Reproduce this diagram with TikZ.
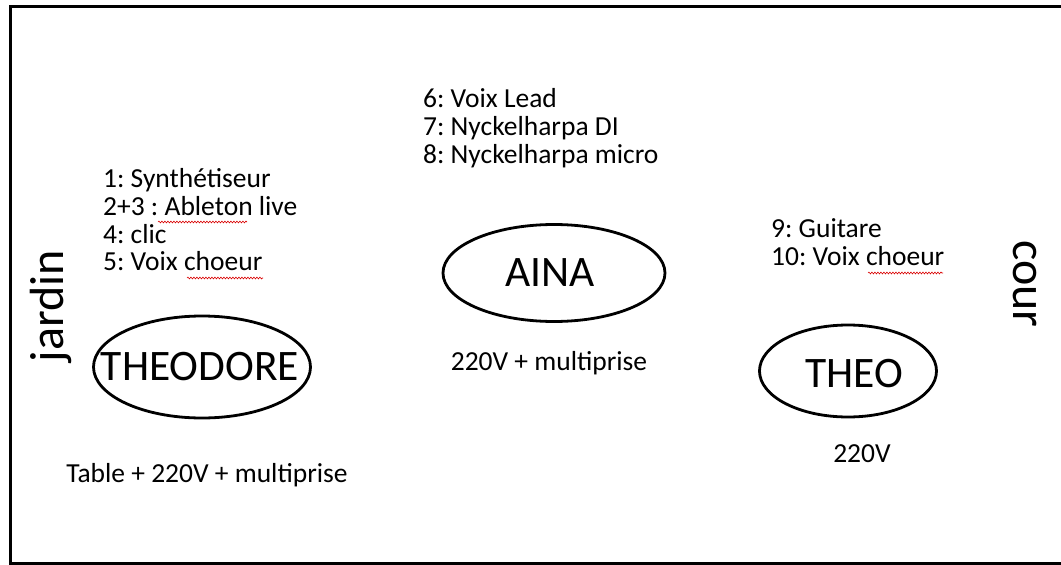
\documentclass[tikz,border=0pt]{standalone}
\usepackage{fontspec}
\setmainfont{Carlito}
\frenchspacing
\usetikzlibrary{shapes.geometric,decorations.pathmorphing}
\begin{document}
\begin{tikzpicture}[x=1pt,y=-1pt,
  txt/.style={font=\fontsize{27.5}{30}\selectfont, inner sep=0pt, anchor=base west},
  ctxt/.style={font=\fontsize{27.5}{30}\selectfont, inner sep=0pt, anchor=base},
  side/.style={font=\fontsize{48}{50}\selectfont, inner sep=0pt},
  person/.style={ellipse, draw, line width=2.8pt, inner sep=0pt},
  pname/.style={font=\fontsize{43.5}{46}\selectfont, inner sep=0pt},
  squig/.style={draw=red!85!black, line width=0.6pt, decorate, decoration={snake, amplitude=0.9pt, segment length=3pt}}]
\useasboundingbox (0,0) rectangle (1061,565);
% stage outline (open on the right)
\draw[line width=3pt] (1061,6.5) -- (10,6.5) -- (10,563.5) -- (1061,563.5);
% side labels
\node[side, rotate=90, anchor=base] (jardin) at (63,306) {jardin};
\node[side, rotate=-90, anchor=base] (cour) at (1013,284) {cour};
% performers
\node[person, minimum width=217pt, minimum height=102pt] (theodore) at (202,367) {};
\node[pname] (theodoretxt) at ([xshift=-2pt]theodore.center) {THEODORE};
\node[person, minimum width=222pt, minimum height=97pt] (aina) at (554,273) {};
\node[pname] (ainatxt) at ([xshift=-4pt]aina.center) {AINA};
\node[person, minimum width=177pt, minimum height=92pt] (theo) at (848,371) {};
\node[pname] (theotxt) at ([xshift=6pt,yshift=-3pt]theo.center) {THEO};
% left list
\node[txt] (l1) at (103,187) {1: Synthétiseur};
\node[txt] (l2) at (103,215) {2+3 : Ableton live};
\node[txt] (l3) at (103,243) {4: clic};
\node[txt] (l4) at (103,270) {5: Voix choeur};
% centre list
\node[txt] (c1) at (423,107) {6: Voix Lead};
\node[txt] (c2) at (423,135) {7: Nyckelharpa DI};
\node[txt] (c3) at (423,163) {8: Nyckelharpa micro};
% right list
\node[txt] (r1) at (771,237) {9: Guitare};
\node[txt] (r2) at (771,265) {10: Voix choeur};
% power notes
\node[ctxt] (ptheodore) at (207,482) {Table + 220V + multiprise};
\node[ctxt] (paina) at (549,370) {220V + multiprise};
\node[ctxt] (ptheo) at (862,462) {220V};
% spell-check squiggles
\draw[squig] (158,222) -- (247,222);
\draw[squig] (187,278) -- (263,278);
\draw[squig] (868,273) -- (943,273);
\end{tikzpicture}
\end{document}
